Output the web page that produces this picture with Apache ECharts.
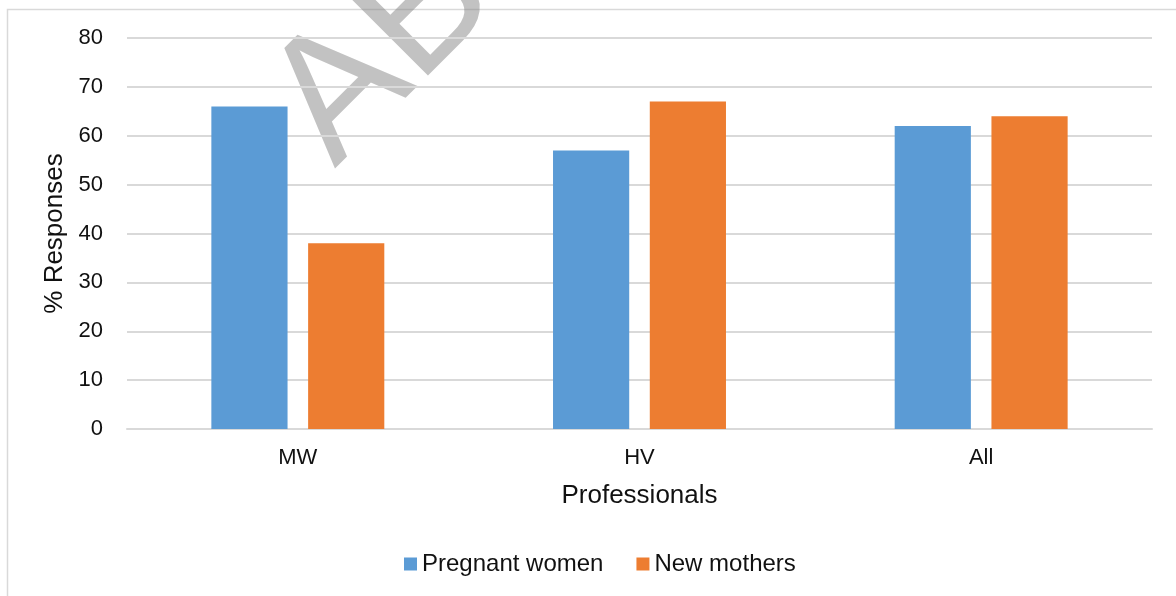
<!DOCTYPE html>
<html>
<head>
<meta charset="utf-8">
<script src="https://cdn.jsdelivr.net/npm/echarts@6/dist/echarts.min.js"></script>
<style>
  html, body { margin: 0; padding: 0; background: #fff; }
  #box { width: 1176px; height: 596px; }
</style>
</head>
<body>
<div id="box"></div>
<script>
  const categories = ['MW', 'HV', 'All'];
  const pregnantWomen = [66, 57, 62];
  const newMothers = [38, 67, 64];
  const seriesNames = ['Pregnant women', 'New mothers'];
  const watermarkText = 'ABSTRACT';

  const font = 'Arial, "Liberation Sans", sans-serif';
  const chart = echarts.init(document.getElementById('box'));

  chart.setOption({
    animation: false,
    textStyle: { fontFamily: font },
    color: ['#5B9BD5', '#ED7D31'],
    grid: { left: 127, right: 24, top: 38, bottom: 167 },
    legend: {
      data: seriesNames,
      left: 404,
      top: 552,
      padding: 0,
      itemWidth: 13,
      itemHeight: 13,
      itemGap: 33,
      icon: 'rect',
      textStyle: { fontSize: 24, color: '#111' },
    },
    xAxis: {
      type: 'category',
      data: categories,
      name: 'Professionals',
      nameLocation: 'middle',
      nameGap: 54,
      nameTextStyle: { fontSize: 26, color: '#111' },
      axisLine: { lineStyle: { color: '#d9d9d9', width: 2 } },
      axisTick: { show: false },
      axisLabel: { fontSize: 22, color: '#111', margin: 18 },
    },
    yAxis: {
      type: 'value',
      min: 0,
      max: 80,
      interval: 10,
      name: '% Responses',
      nameLocation: 'middle',
      nameGap: 54,
      nameTextStyle: { fontSize: 26, color: '#111' },
      axisLine: { show: false },
      axisTick: { show: false },
      axisLabel: { fontSize: 22, color: '#111', margin: 24 },
      splitLine: { lineStyle: { color: '#d9d9d9', width: 2 } },
    },
    series: [
      {
        name: seriesNames[0],
        type: 'bar',
        data: pregnantWomen,
        barWidth: '22.3%',
        barGap: '27%',
      },
      {
        name: seriesNames[1],
        type: 'bar',
        data: newMothers,
        barWidth: '22.3%',
        barGap: '27%',
      },
    ],
    graphic: [
      {
        type: 'rect',
        silent: true,
        shape: { x: 7.5, y: 9.5, width: 1300, height: 700 },
        style: { fill: 'none', stroke: '#d9d9d9', lineWidth: 1.5 },
        z: -10,
      },
      {
        type: 'group',
        x: 338,
        y: 172,
        rotation: Math.PI / 4,
        silent: true,
        z: 100,
        children: [
          {
            type: 'text',
            x: 0,
            y: -53,
            style: {
              text: watermarkText,
              font: '176px Arial, "Liberation Sans", sans-serif',
              fill: 'rgba(128,128,128,0.48)',
              align: 'left',
              verticalAlign: 'middle',
            },
          },
        ],
      },
    ],
  });
</script>
</body>
</html>
